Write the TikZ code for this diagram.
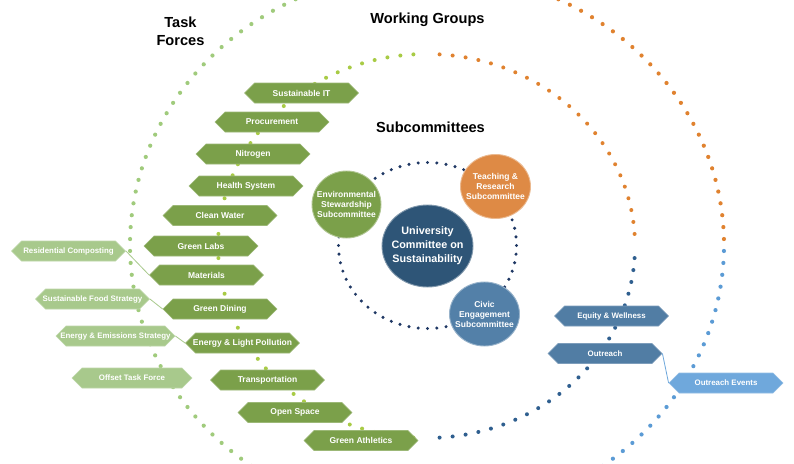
\documentclass[tikz,border=0pt]{standalone}
\usepackage{fontspec}
\setmainfont{Liberation Sans}
\usetikzlibrary{shapes.symbols,shapes.geometric}
\definecolor{hexgreen}{HTML}{7BA04A}
\definecolor{hexlight}{HTML}{A8C98C}
\definecolor{hexblue}{HTML}{517DA4}
\definecolor{hexlblue}{HTML}{6FA8DC}
\definecolor{navycirc}{HTML}{2E5577}
\definecolor{civic}{HTML}{5380A8}
\definecolor{orangecirc}{HTML}{DE8A45}
\definecolor{dotouter}{HTML}{A0CB7C}
\definecolor{dotmid}{HTML}{A8CB45}
\definecolor{dotorange}{HTML}{E0822F}
\definecolor{dotnavy}{HTML}{1F3864}
\definecolor{dotmidblue}{HTML}{2F5F8F}
\definecolor{dotblue}{HTML}{5B9BD5}
\begin{document}
\begin{tikzpicture}[x=1pt,y=-1pt,
  hexbox/.style={signal, signal to=west and east, signal pointer angle=90,
    minimum width=114pt, minimum height=20pt, inner sep=0pt,
    draw=#1!75!white, line width=0.6pt, fill=#1},
  hexlabel/.style={text=white, inner sep=0pt, font=\fontsize{8.5}{10}\selectfont\bfseries},
  hexlabelsm/.style={text=white, inner sep=0pt, font=\fontsize{7.9}{10}\selectfont\bfseries},
  circ/.style={ellipse, inner sep=0pt, fill=#1, draw=#1!60!white, line width=0.9pt},
  ctext/.style={text=white, align=center, inner sep=0pt},
  title/.style={font=\fontsize{14.6}{17.5}\selectfont\bfseries, align=center, inner sep=0pt},
  lgline/.style={draw=hexlight, line width=0.8pt},
  lbline/.style={draw=hexlblue, line width=0.8pt}]
\fill[white] (0,0) rectangle (794,463);
\useasboundingbox (0,0) rectangle (794,463);
\begin{scope}
\clip (0,0) rectangle (794,463);
% outer ring
\foreach \t in {1.25,3.75,...,88.75}
  \fill[dotorange] ({427+297*cos(\t)},{245-274*sin(\t)}) circle (2.1pt);
\foreach \t in {91.25,93.75,...,268.75}
  \fill[dotouter] ({427+297*cos(\t)},{245-274*sin(\t)}) circle (2.1pt);
\foreach \t in {271.25,273.75,...,358.75}
  \fill[dotblue] ({427+297*cos(\t)},{245-274*sin(\t)}) circle (2.1pt);
% middle ring
\foreach \t in {3.6,7.2,...,86.5}
  \fill[dotorange] ({426.5+208.5*cos(\t)},{246-192*sin(\t)}) circle (2pt);
\foreach \t in {93.6,97.2,...,266.5}
  \fill[dotmid] ({426.5+208.5*cos(\t)},{246-192*sin(\t)}) circle (2pt);
\foreach \t in {273.6,277.2,...,356.5}
  \fill[dotmidblue] ({426.5+208.5*cos(\t)},{246-192*sin(\t)}) circle (2pt);
% inner ring
\foreach \t in {0,6,...,354}
  \fill[dotnavy] ({427.5+89*cos(\t)},{245.5-83*sin(\t)}) circle (1.7pt);
\end{scope}

% titles
\node[title] (tf) at (180.5,31.5) {Task\\Forces};
\node[title] (wg) at (427.5,20) {Working Groups};
\node[title] (sc) at (430.5,127) {Subcommittees};

% task forces (green)
\node[hexbox=hexgreen, label={[hexlabel]center:{Sustainable IT}}] (sit) at (301.5,93) {};
\node[hexbox=hexgreen, label={[hexlabel]center:{Procurement}}] (proc) at (272,122) {};
\node[hexbox=hexgreen, label={[hexlabel]center:{Nitrogen}}] (nit) at (253,154) {};
\node[hexbox=hexgreen, label={[hexlabel]center:{Health System}}] (hs) at (246,186) {};
\node[hexbox=hexgreen, label={[hexlabel]center:{Clean Water}}] (cw) at (220,215.5) {};
\node[hexbox=hexgreen, label={[hexlabel]center:{Green Labs}}] (gl) at (201,246) {};
\node[hexbox=hexgreen, label={[hexlabel]center:{Materials}}] (mat) at (206.5,275) {};
\node[hexbox=hexgreen, label={[hexlabel]center:{Green Dining}}] (gd) at (220,309) {};
\node[hexbox=hexgreen, label={[hexlabel]center:{Energy \& Light Pollution}}] (elp) at (242.5,343) {};
\node[hexbox=hexgreen, label={[hexlabel]center:{Transportation}}] (tr) at (267.5,380) {};
\node[hexbox=hexgreen, label={[hexlabel]center:{Open Space}}] (os) at (295,412.5) {};
\node[hexbox=hexgreen, label={[hexlabel]center:{Green Athletics}}] (ga) at (361,440.5) {};

% light green
\node[hexbox=hexlight, label={[hexlabelsm]center:{Residential Composting}}] (rc) at (68.5,251) {};
\node[hexbox=hexlight, label={[hexlabelsm]center:{Sustainable Food Strategy}}] (sfs) at (92.5,299) {};
\node[hexbox=hexlight, minimum width=119pt, label={[hexlabelsm]center:{Energy \& Emissions Strategy}}] (ees) at (115.5,336) {};
\node[hexbox=hexlight, minimum width=120pt, label={[hexlabelsm]center:{Offset Task Force}}] (otf) at (132,378) {};

% blue
\node[hexbox=hexblue, label={[hexlabelsm]center:{Equity \& Wellness}}] (ew) at (611.5,316) {};
\node[hexbox=hexblue, label={[hexlabelsm]center:{Outreach}}] (out) at (605,353.5) {};
\node[hexbox=hexlblue, label={[hexlabelsm]center:{Outreach Events}}] (oe) at (726,383) {};

% connectors
\draw[lgline] (rc.east) -- (mat.west);
\draw[lgline] (sfs.east) -- (gd.west);
\draw[lgline] (ees.east) -- (elp.west);
\draw[lbline] (out.east) -- (oe.west);

% circles
\node[circ=navycirc, minimum width=91pt, minimum height=82pt] (ucs) at (427.5,246) {};
\node[ctext, font=\fontsize{10.8}{14}\selectfont\bfseries] (ucst) at (ucs) {University\\Committee on\\Sustainability};
\node[circ=hexgreen, minimum width=69pt, minimum height=67pt] (env) at (346.5,204.5) {};
\node[ctext, font=\fontsize{8.5}{10}\selectfont\bfseries] (envt) at (env) {Environmental\\Stewardship\\Subcommittee};
\node[circ=orangecirc, minimum width=70pt, minimum height=64pt] (tea) at (495.5,186.5) {};
\node[ctext, font=\fontsize{8.5}{10}\selectfont\bfseries] (teat) at (tea) {Teaching \&\\Research\\Subcommittee};
\node[circ=civic, minimum width=70pt, minimum height=64pt] (civ) at (484.5,314) {};
\node[ctext, font=\fontsize{8.5}{10}\selectfont\bfseries] (civt) at (civ) {Civic\\Engagement\\Subcommittee};
\end{tikzpicture}
\end{document}
